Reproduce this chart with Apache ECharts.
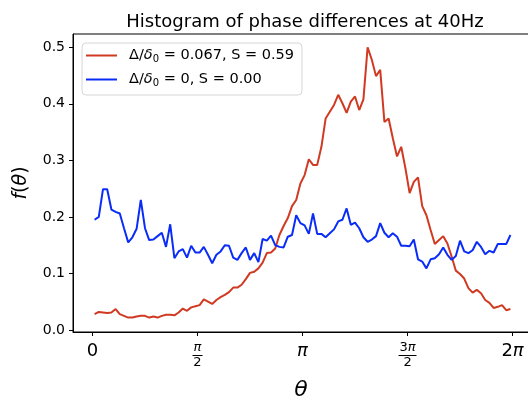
<!DOCTYPE html>
<html>
<head>
<meta charset="utf-8">
<script src="https://cdn.jsdelivr.net/npm/echarts@6/dist/echarts.min.js"></script>
<style>html,body{margin:0;padding:0;background:#fff;}#c{width:528px;height:400px;}</style>
</head>
<body>
<div id="c"></div>
<script>
// ---- data ----
var nBins = 100;
var redValues = [
0.028,0.032,0.031,0.030,0.031,0.037,0.028,0.025,0.022,0.022,
0.024,0.025,0.025,0.022,0.024,0.022,0.025,0.027,0.027,0.026,
0.031,0.038,0.034,0.040,0.042,0.044,0.054,0.050,0.046,0.053,
0.058,0.062,0.067,0.075,0.075,0.080,0.090,0.101,0.103,0.109,
0.119,0.136,0.137,0.144,0.168,0.184,0.198,0.219,0.230,0.259,
0.274,0.302,0.292,0.292,0.324,0.374,0.386,0.398,0.416,0.401,
0.384,0.404,0.413,0.389,0.408,0.500,0.478,0.449,0.460,0.368,
0.374,0.339,0.307,0.324,0.286,0.242,0.262,0.270,0.219,0.203,
0.177,0.152,0.159,0.166,0.153,0.130,0.105,0.099,0.091,0.074,
0.066,0.071,0.065,0.053,0.048,0.039,0.041,0.044,0.035,0.037
];
var blueValues = [
0.195,0.200,0.249,0.249,0.213,0.209,0.206,0.180,0.155,0.164,
0.179,0.230,0.180,0.159,0.160,0.166,0.172,0.147,0.187,0.127,
0.139,0.143,0.128,0.149,0.137,0.137,0.147,0.133,0.118,0.133,
0.139,0.150,0.149,0.128,0.124,0.136,0.146,0.124,0.136,0.120,
0.161,0.158,0.167,0.150,0.147,0.146,0.165,0.168,0.203,0.189,
0.185,0.170,0.206,0.170,0.170,0.164,0.171,0.178,0.192,0.195,
0.215,0.186,0.190,0.180,0.164,0.156,0.160,0.166,0.189,0.172,
0.164,0.171,0.165,0.149,0.149,0.148,0.160,0.125,0.121,0.109,
0.125,0.127,0.134,0.146,0.133,0.124,0.131,0.158,0.139,0.136,
0.141,0.156,0.147,0.134,0.140,0.137,0.152,0.152,0.152,0.168
];
var redName = 'Δ/δ₀ = 0.067, S = 0.59';
var blueName = 'Δ/δ₀ = 0, S = 0.00';
var xTickValues = [0, Math.PI/2, Math.PI, 3*Math.PI/2, 2*Math.PI];
var xTickLabels = [
  '{big|0}',
  '{fri|π}\n{bar| }\n{frn|2}',
  '{bigi|π}',
  '{frn|3}{fri|π}\n{bar2| }\n{frn|2}',
  '{big|2}{bigi|π}'
];
var yTickValues = [0, 0.1, 0.2, 0.3, 0.4, 0.5];
var yTickLabels = ['0.0','0.1','0.2','0.3','0.4','0.5'];

// bin centres of the histogram
var binCenters = [];
for (var i = 0; i < nBins; i++) binCenters.push((i + 0.5) * 2 * Math.PI / nBins);
function pairs(vals){ return vals.map(function(v,i){ return [binCenters[i], v]; }); }

var FONT = 'DejaVu Sans';
var chart = echarts.init(document.getElementById('c'), null, {renderer:'canvas'});
chart.setOption({
  animation: false,
  backgroundColor: '#fff',
  title: {
    text: 'Histogram of phase differences at 40Hz',
    left: 300, top: 8, textAlign: 'center',
    textStyle: {fontFamily: FONT, fontSize: 18, fontWeight: 'normal', color: '#000'}
  },
  legend: {
    orient: 'vertical', left: 82, top: 43,
    padding: [5, 8, 7, 4], itemGap: 8,
    itemWidth: 31, itemHeight: 2, icon: 'rect',
    backgroundColor: 'rgba(255,255,255,0.8)', borderColor: '#d6d6d6', borderWidth: 1, borderRadius: 4,
    data: [redName, blueName],
    formatter: function(name){
      var rest = name.split('δ₀')[1];
      return '{n|Δ/}{i|δ}{s|0}{n|' + rest + '}';
    },
    textStyle: {
      fontFamily: FONT, fontSize: 14.5, color: '#000', padding: [0,0,0,7],
      rich: {
        n: {fontFamily: FONT, fontSize: 14.5, color: '#000', lineHeight: 17},
        i: {fontFamily: FONT, fontSize: 14.5, fontStyle: 'italic', color: '#000', lineHeight: 17},
        s: {fontFamily: FONT, fontSize: 10, color: '#000', verticalAlign: 'bottom', padding: [6,0,0,0]}
      }
    }
  },
  grid: {left: 73, top: 34, right: -1, bottom: 68, show: true, borderColor: '#000', borderWidth: 1, containLabel: false, outerBoundsMode: 'none'},
  xAxis: {
    type: 'value', min: -0.2917, max: 6.5297,
    name: '{t|θ}', nameLocation: 'middle', nameGap: 47,
    nameTextStyle: {rich: {t: {fontFamily: FONT, fontSize: 22, fontStyle: 'italic', color: '#000'}}},
    axisLine: {show: true, onZero: false, lineStyle: {color: '#000', width: 1}},
    splitLine: {show: false},
    axisTick: {show: true, length: 4, inside: false, customValues: xTickValues, lineStyle: {color: '#000'}},
    axisLabel: {
      customValues: xTickValues, margin: 10, color: '#000', fontFamily: FONT,
      formatter: function(v){
        for (var k = 0; k < xTickValues.length; k++) if (Math.abs(v - xTickValues[k]) < 1e-6) return xTickLabels[k];
        return '';
      },
      rich: {
        big: {fontFamily: FONT, fontSize: 18, color: '#000', align: 'center'},
        bigi: {fontFamily: FONT, fontSize: 18, fontStyle: 'italic', color: '#000', align: 'center'},
        fri: {fontFamily: FONT, fontSize: 13, fontStyle: 'italic', color: '#000', lineHeight: 12, align: 'center'},
        frn: {fontFamily: FONT, fontSize: 13, color: '#000', lineHeight: 12, align: 'center'},
        bar: {backgroundColor: '#000', width: 10, height: 1, fontSize: 1, lineHeight: 3, align: 'center'},
        bar2: {backgroundColor: '#000', width: 18, height: 1, fontSize: 1, lineHeight: 3, align: 'center'}
      }
    }
  },
  yAxis: {
    type: 'value', min: -0.00354, max: 0.5235,
    name: '{i|f}{n|(}{i|θ}{n|)}', nameLocation: 'middle', nameGap: 42, nameRotate: 90,
    nameTextStyle: {rich: {
      i: {fontFamily: FONT, fontSize: 19, fontStyle: 'italic', color: '#000'},
      n: {fontFamily: FONT, fontSize: 19, color: '#000'}
    }},
    axisLine: {show: true, onZero: false, lineStyle: {color: '#000', width: 1}},
    splitLine: {show: false},
    axisTick: {show: true, length: 4, inside: false, customValues: yTickValues, lineStyle: {color: '#000'}},
    axisLabel: {
      customValues: yTickValues, margin: 8, color: '#000', fontFamily: FONT, fontSize: 14,
      formatter: function(v){
        for (var k = 0; k < yTickValues.length; k++) if (Math.abs(v - yTickValues[k]) < 1e-9) return yTickLabels[k];
        return '';
      }
    }
  },
  series: [
    {name: redName, type: 'line', data: pairs(redValues), symbol: 'none', lineStyle: {color: '#d03a22', width: 2}, itemStyle: {color: '#d03a22'}, clip: true},
    {name: blueName, type: 'line', data: pairs(blueValues), symbol: 'none', lineStyle: {color: '#0a2cf7', width: 2}, itemStyle: {color: '#0a2cf7'}, clip: true}
  ]
});
</script>
</body>
</html>
